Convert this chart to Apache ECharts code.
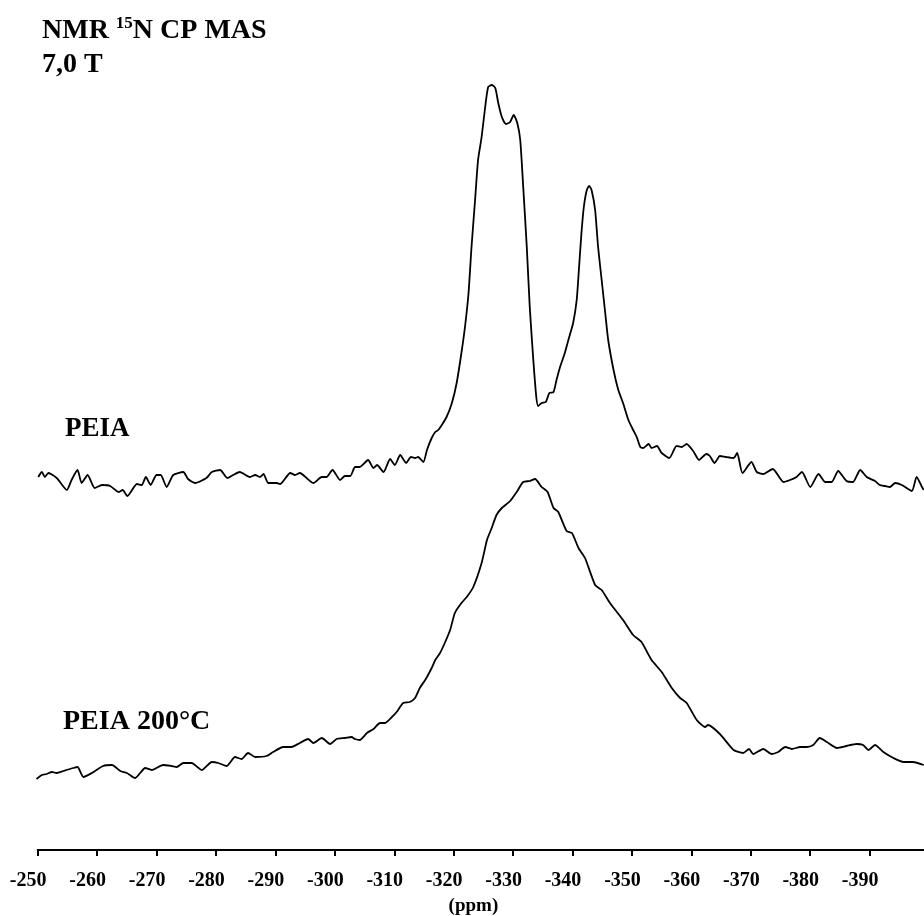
<!DOCTYPE html>
<html>
<head>
<meta charset="utf-8">
<script src="https://cdn.jsdelivr.net/npm/echarts@6/dist/echarts.min.js"></script>
<style>
html, body { margin: 0; padding: 0; background: #fff; }
#nmr-chart { width: 924px; height: 916px; }
</style>
</head>
<body>
<div id="nmr-chart"></div>
<script>
// chemical shift (ppm) and intensity (a.u.)
var peiaPpm = [-250.1, -250.7, -251.2, -251.8, -253.2, -254.9, -255.7, -256.7, -257.4, -258.4,
	-259.6, -260.8, -262.2, -263.6, -264.3, -265.1, -266.7, -267.5, -268.2, -269.0,
	-270.0, -270.7, -271.7, -272.8, -274.5, -275.3, -276.5, -278.4, -279.3, -280.7,
	-281.9, -282.9, -284.0, -285.7, -286.6, -287.4, -288.0, -288.8, -290.2, -290.8,
	-292.5, -293.3, -294.1, -296.4, -297.8, -298.6, -299.6, -300.9, -301.7, -302.6,
	-303.4, -304.2, -305.6, -306.5, -307.1, -308.2, -309.3, -310.1, -311.0, -312.0,
	-312.8, -313.5, -314.0, -314.9, -315.5, -316.3, -316.9, -317.4, -318.0, -318.8,
	-319.7, -320.5, -321.3, -321.9, -322.5, -323.0, -323.6, -324.1, -324.7, -325.3,
	-325.8, -326.4, -327.0, -327.5, -328.1, -328.8, -329.5, -330.1, -330.7, -331.2,
	-331.7, -332.3, -332.8, -333.4, -333.9, -334.2, -334.8, -335.5, -336.1, -336.8,
	-337.3, -337.9, -338.7, -339.3, -340.1, -340.7, -341.1, -341.5, -341.9, -342.4,
	-342.8, -343.2, -343.8, -344.3, -344.9, -345.5, -346.0, -346.9, -347.7, -348.5,
	-349.4, -350.2, -350.8, -351.4, -351.9, -352.8, -353.3, -354.2, -355.0, -356.3,
	-357.5, -358.4, -359.2, -360.3, -361.3, -362.5, -363.1, -363.9, -364.8, -365.8,
	-367.1, -367.7, -368.6, -370.1, -371.0, -372.1, -373.7, -375.5, -376.6, -377.7,
	-378.6, -380.0, -381.4, -382.5, -383.6, -384.7, -386.1, -387.2, -388.4, -389.5,
	-390.9, -391.7, -392.6, -393.4, -394.3, -395.4, -397.1, -397.9, -398.8, -399.1];
var peiaInt = [373, 378, 373, 377, 372, 360, 370, 380, 367, 375,
	362, 365, 364, 358, 360, 354, 366, 365, 373, 365,
	375, 375, 363, 375, 378, 371, 367, 372, 378, 380,
	372, 375, 378, 373, 375, 373, 376, 367, 367, 366,
	377, 375, 377, 367, 373, 373, 380, 370, 374, 374,
	383, 383, 390, 382, 385, 378, 391, 385, 395, 387,
	393, 392, 393, 388, 400, 412, 418, 420, 425, 433,
	447, 467, 497, 523, 557, 603, 650, 690, 713, 743,
	763, 765, 762, 747, 733, 726, 728, 735, 727, 710,
	663, 603, 543, 490, 453, 444, 447, 448, 457, 458,
	470, 483, 497, 510, 527, 550, 583, 617, 643, 660,
	664, 660, 640, 603, 570, 537, 510, 480, 460, 447,
	430, 420, 413, 403, 402, 406, 402, 404, 397, 392,
	404, 403, 406, 399, 390, 396, 394, 387, 394, 393,
	392, 397, 377, 388, 378, 376, 381, 368, 370, 373,
	378, 363, 376, 368, 368, 379, 369, 368, 380, 373,
	369, 365, 364, 363, 367, 365, 359, 373, 363, 360];

var peia200Ppm = [-249.8, -250.7, -251.5, -252.4, -253.2, -254.3, -256.0, -256.7, -257.7, -259.1,
	-261.0, -262.5, -263.9, -265.0, -266.4, -268.1, -269.2, -271.1, -272.5, -273.4,
	-274.5, -275.9, -277.6, -279.3, -280.4, -281.8, -283.2, -284.3, -285.4, -286.6,
	-288.5, -289.6, -291.3, -292.7, -294.1, -295.5, -296.4, -297.8, -299.2, -300.3,
	-301.7, -302.8, -303.4, -304.2, -305.4, -306.5, -307.6, -308.4, -309.6, -310.4,
	-311.5, -312.6, -313.5, -314.3, -315.2, -315.5, -316.3, -316.9, -317.7, -318.5,
	-319.4, -320.2, -321.3, -322.2, -323.3, -324.7, -325.6, -326.4, -327.2, -328.1,
	-329.5, -330.6, -331.7, -332.8, -333.7, -334.8, -335.8, -336.8, -337.6, -339.0,
	-339.9, -341.0, -342.1, -343.8, -344.9, -346.3, -348.5, -350.2, -351.6, -353.3,
	-355.0, -356.7, -358.1, -359.2, -360.9, -362.3, -362.8, -364.8, -367.1, -368.7,
	-369.7, -370.4, -372.1, -373.5, -374.6, -375.8, -376.9, -378.3, -379.4, -380.5,
	-381.6, -382.8, -384.5, -386.1, -387.8, -388.9, -389.8, -390.9, -392.3, -394.0,
	-395.7, -397.3, -399.1];
var peia200Int = [71, 75, 76, 78, 77, 79, 82, 83, 73, 77,
	84, 85, 79, 77, 72, 82, 80, 85, 84, 83,
	87, 87, 80, 88, 87, 84, 93, 91, 97, 93,
	94, 98, 103, 103, 107, 111, 107, 112, 106, 111,
	112, 113, 111, 110, 117, 121, 127, 127, 133, 138,
	147, 148, 152, 162, 170, 173, 182, 190, 197, 207,
	220, 237, 247, 253, 263, 287, 310, 322, 335, 342,
	349, 358, 368, 369, 371, 363, 358, 342, 338, 319,
	317, 302, 292, 265, 260, 247, 230, 215, 208, 190,
	178, 162, 152, 147, 130, 123, 125, 116, 100, 97,
	101, 96, 101, 96, 98, 103, 101, 103, 103, 105,
	112, 108, 102, 104, 106, 105, 100, 105, 98, 92,
	88, 88, 85];

var ppmTicks = [-250, -260, -270, -280, -290, -300, -310, -320, -330, -340, -350, -360, -370, -380, -390];

function pairs(xs, ys) {
	var out = [];
	for (var i = 0; i < xs.length; i++) out.push([xs[i], ys[i]]);
	return out;
}

var serif = 'Liberation Serif';
var myChart = echarts.init(document.getElementById('nmr-chart'));
var option = {
	animation: false,
	backgroundColor: '#fff',
	grid: {
		left: 37.7,
		top: 0,
		bottom: 66,
		width: 891.4,
		outerBoundsMode: 'none'
	},
	xAxis: {
		type: 'value',
		min: -400,
		max: -250,
		interval: 10,
		inverse: true,
		name: '(ppm)',
		nameLocation: 'middle',
		nameGap: 47,
		nameTextStyle: { color: '#000', fontFamily: serif, fontWeight: 'bold', fontSize: 19, padding: [0, 20, 0, 0] },
		axisLine: { lineStyle: { color: '#000', width: 2 } },
		axisTick: { length: 6, lineStyle: { color: '#000', width: 2 } },
		axisLabel: {
			color: '#000', fontFamily: serif, fontWeight: 'bold', fontSize: 20,
			margin: 21, padding: [0, 19, 0, 0],
			formatter: function(v) { return ppmTicks.indexOf(v) >= 0 ? String(v) : ''; }
		},
		splitLine: { show: false }
	},
	yAxis: {
		type: 'value',
		min: 0,
		max: 850,
		show: false
	},
	graphic: [
		{ type: 'text', left: 42, top: 15, style: {
			text: '{b|NMR }{s|15}{b|N CP MAS}',
			rich: {
				b: { fontFamily: serif, fontWeight: 'bold', fontSize: 28, fill: '#000', lineHeight: 32 },
				s: { fontFamily: serif, fontWeight: 'bold', fontSize: 17, fill: '#000', lineHeight: 32, verticalAlign: 'top' }
			}
		} },
		{ type: 'text', left: 42, top: 51, style: { text: '7,0 T', fontFamily: serif, fontWeight: 'bold', fontSize: 28, fill: '#000' } },
		{ type: 'text', left: 65, top: 416, style: { text: 'PEIA', fontFamily: serif, fontWeight: 'bold', fontSize: 27, fill: '#000' } },
		{ type: 'text', left: 63, top: 708, style: { text: 'PEIA 200°C', fontFamily: serif, fontWeight: 'bold', fontSize: 28, fill: '#000' } }
	],
	series: [{
		name: 'PEIA',
		type: 'line',
		data: pairs(peiaPpm, peiaInt),
		showSymbol: false,
		smooth: 0.2,
		lineStyle: { color: '#000', width: 1.8 }
	}, {
		name: 'PEIA 200°C',
		type: 'line',
		data: pairs(peia200Ppm, peia200Int),
		showSymbol: false,
		smooth: 0.2,
		lineStyle: { color: '#000', width: 1.8 }
	}]
};
myChart.setOption(option);
</script>
</body>
</html>
